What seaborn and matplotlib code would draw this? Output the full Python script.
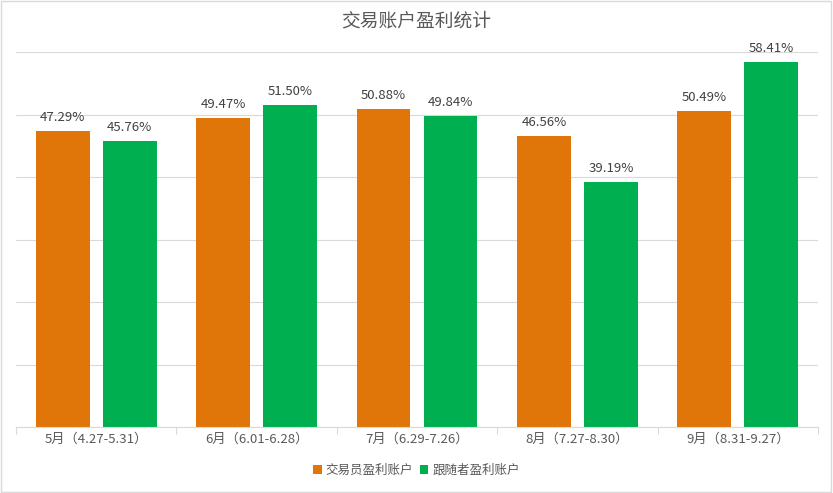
import matplotlib
matplotlib.use("Agg")
import matplotlib.pyplot as plt
import seaborn as sns
import pandas as pd
from matplotlib.patches import Rectangle

categories = ["5月（4.27-5.31）", "6月（6.01-6.28）", "7月（6.29-7.26）", "8月（7.27-8.30）", "9月（8.31-9.27）"]
series_names = ["交易员盈利账户", "跟随者盈利账户"]
trader = [47.29, 49.47, 50.88, 46.56, 50.49]
follower = [45.76, 51.50, 49.84, 39.19, 58.41]
colors = ["#E0760A", "#00B050"]

sns.set_theme(style="white")
plt.rcParams["font.family"] = ["Noto Sans CJK SC", "DejaVu Sans"]

df = pd.DataFrame({
    "cat": categories * 2,
    "series": [series_names[0]] * 5 + [series_names[1]] * 5,
    "value": trader + follower,
})

fig = plt.figure(figsize=(8.33, 4.93), dpi=100)
ax = fig.add_axes([16/833, 1 - 427/493, (818-16)/833, (427-52)/493])

sns.barplot(data=df, x="cat", y="value", hue="series", palette=colors,
            width=0.836, gap=0.196, ax=ax, legend=True, saturation=1, linewidth=0)

for cont in ax.containers:
    ax.bar_label(cont, labels=[f"{v:.2f}%" for v in cont.datavalues],
                 padding=5, fontsize=9.5, color="#404040")

ax.set_ylim(0, 60)
ax.set_xlim(-0.5, 4.5)
ax.set_yticks([0, 10, 20, 30, 40, 50, 60])
ax.yaxis.grid(True, color="#D9D9D9", linewidth=0.8)
ax.set_axisbelow(True)
ax.tick_params(axis="y", left=False, labelleft=False)
ax.set_xlabel("")
ax.set_ylabel("")
for s in ["top", "right", "left"]:
    ax.spines[s].set_visible(False)
ax.spines["bottom"].set_color("#D9D9D9")
ax.spines["bottom"].set_linewidth(0.8)
ax.tick_params(axis="x", which="major", length=0, labelsize=9.5, labelcolor="#595959", pad=4)
ax.set_xticks([-0.5, 0.5, 1.5, 2.5, 3.5, 4.5], minor=True)
ax.tick_params(axis="x", which="minor", length=5, color="#D9D9D9", width=0.8, bottom=True)

leg = ax.legend(loc="center", bbox_to_anchor=(0.5, 1 - 470/493), bbox_transform=fig.transFigure,
                ncol=2, frameon=False, fontsize=9, handlelength=0.7, handleheight=0.7,
                handletextpad=0.3, columnspacing=0.5, labelcolor="#595959")

fig.text(0.5, 1 - 21/493, "交易账户盈利统计", ha="center", va="center", fontsize=13.5, color="#595959")

fig.patches.append(Rectangle((0.001, 0.002), 0.997, 0.996, transform=fig.transFigure,
                             fill=False, edgecolor="#D9D9D9", linewidth=1))

fig.savefig("out.png", dpi=100)
